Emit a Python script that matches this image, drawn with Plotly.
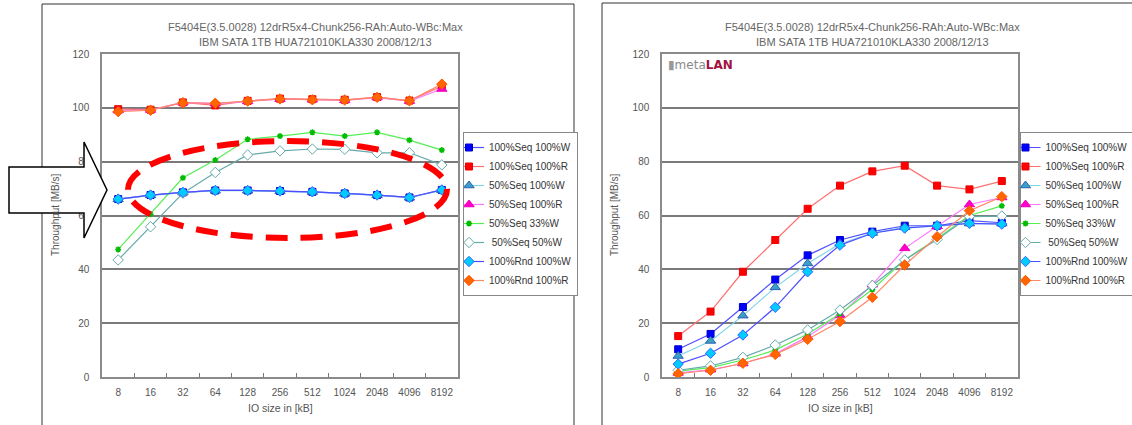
import plotly.graph_objects as go

W, H = 1132, 425

categories = ["8", "16", "32", "64", "128", "256", "512", "1024", "2048", "4096", "8192"]
series_names = ["100%Seq 100%W", "100%Seq 100%R", "50%Seq 100%W", "50%Seq 100%R",
                "50%Seq 33%W", " 50%Seq 50%W", "100%Rnd 100%W", "100%Rnd 100%R"]

# Left chart (write-back cache)
left_seq_w = [66.1, 67.6, 68.6, 69.3, 69.3, 69.1, 68.8, 68.2, 67.6, 66.7, 69.5]
left_seq_r = [99.5, 99.3, 102.0, 100.9, 102.6, 103.4, 103.2, 103.0, 104.0, 102.7, 108.0]
left_50_w = [66.0, 67.5, 68.5, 69.2, 69.2, 69.0, 68.7, 68.1, 67.5, 66.6, 69.4]
left_50_r = [99.0, 99.2, 101.9, 101.6, 102.4, 103.2, 103.0, 102.8, 103.8, 102.5, 107.0]
left_50_33w = [47.4, 60.5, 74.0, 80.6, 88.3, 89.5, 90.9, 89.5, 90.9, 88.0, 84.3]
left_50_50w = [43.5, 55.8, 68.3, 76.0, 82.5, 84.0, 84.7, 84.6, 83.3, 83.3, 78.8]
left_rnd_w = [66.1, 67.6, 68.6, 69.3, 69.3, 69.1, 68.8, 68.2, 67.6, 66.7, 69.5]
left_rnd_r = [98.6, 99.1, 101.9, 101.7, 102.5, 103.3, 103.0, 102.9, 103.9, 102.6, 108.8]

# Right chart
right_seq_w = [10.3, 16.0, 26.0, 36.2, 45.2, 50.9, 54.0, 56.2, 56.2, 58.1, 57.3]
right_seq_r = [15.2, 24.3, 39.1, 50.9, 62.5, 71.1, 76.4, 78.5, 71.1, 69.7, 72.8]
right_50_w = [7.8, 13.4, 22.8, 33.3, 42.2, 49.5, 53.5, 55.6, 56.0, 57.0, 57.0]
right_50_r = [1.5, 2.7, 5.0, 8.6, 15.0, 23.0, 34.3, 47.8, 56.0, 64.1, 66.7]
right_50_33w = [2.2, 3.5, 6.3, 10.0, 16.0, 23.5, 32.5, 43.5, 51.5, 60.0, 63.6]
right_50_50w = [2.5, 4.1, 7.3, 11.9, 17.5, 24.9, 34.0, 43.5, 51.1, 59.6, 59.8]
right_rnd_w = [4.8, 8.8, 15.6, 25.9, 39.1, 49.0, 53.4, 55.3, 56.2, 57.1, 56.8]
right_rnd_r = [1.2, 2.5, 5.1, 8.4, 14.0, 20.6, 29.6, 41.6, 52.1, 61.8, 67.0]

title_line1 = "F5404E(3.5.0028) 12drR5x4-Chunk256-RAh:Auto-WBc:Max"
title_line2 = "IBM SATA 1TB HUA721010KLA330 2008/12/13"
y_title = "Throughput [MB/s]"
x_title = "IO size in [kB]"
y_ticks = [0, 20, 40, 60, 80, 100, 120]

styles = [
    dict(line="#5050ff", symbol="square", color="#0000ff", lc="#0000cc", size=7),
    dict(line="#ff7070", symbol="square", color="#ff0000", lc="#ee0000", size=7),
    dict(line="#80d4e8", symbol="triangle-up", color="#3aa0c8", lc="#2a60b0", size=9),
    dict(line="#ff77ff", symbol="triangle-up", color="#ff00cc", lc="#ee00bb", size=9),
    dict(line="#55ee55", symbol="asterisk-open", color="#00bb00", lc="#00bb00", size=5),
    dict(line="#66aaaa", symbol="diamond", color="#ffffff", lc="#66aaaa", size=8),
    dict(line="#4d4dff", symbol="diamond", color="#00ccff", lc="#3366ff", size=8),
    dict(line="#ff8866", symbol="diamond", color="#ff6600", lc="#ff5500", size=8),
]

left_data = [left_seq_w, left_seq_r, left_50_w, left_50_r, left_50_33w, left_50_50w, left_rnd_w, left_rnd_r]
right_data = [right_seq_w, right_seq_r, right_50_w, right_50_r, right_50_33w, right_50_50w, right_rnd_w, right_rnd_r]


def px(x):
    return x / W


def py(y):
    return 1 - y / H


FONT = "Liberation Sans, Arial, sans-serif"
TXT = "#555555"

fig = go.Figure()
for i, (name, st) in enumerate(zip(series_names, styles)):
    for vals, xa, ya, lg in ((left_data[i], "x", "y", "legend"), (right_data[i], "x2", "y2", "legend2")):
        mline = dict(color=st["lc"], width=1.5 if st["symbol"].startswith("asterisk") else 1)
        fig.add_trace(go.Scatter(
            x=categories, y=vals, name=name, mode="lines+markers",
            xaxis=xa, yaxis=ya, legend=lg,
            line=dict(color=st["line"], width=1.2),
            marker=dict(symbol=st["symbol"], color=st["color"], size=st["size"], line=mline),
        ))

plot_top, plot_bot = 54, 377
ydom = [py(plot_bot), py(plot_top)]
xdom_left = [px(102), px(458)]
xdom_right = [px(662), px(1018)]

axis_common_x = dict(
    type="category", categoryorder="array", categoryarray=categories,
    showline=True, mirror=True, linecolor="#8a8a8a", linewidth=1.5,
    showgrid=False, ticks="inside", tickson="boundaries", ticklen=4, tickcolor="#777",
    tickfont=dict(family=FONT, size=10, color=TXT), ticklabelstandoff=5,
    range=[-0.5, 10.5], fixedrange=True, zeroline=False,
)
axis_common_y = dict(
    range=[0, 120], tickvals=y_ticks, showline=True, mirror=True,
    linecolor="#8a8a8a", linewidth=1.5, showgrid=True, gridcolor="#7a7a7a", gridwidth=1.5,
    zeroline=False, ticks="", tickfont=dict(family=FONT, size=10, color=TXT),
    ticklabelstandoff=9, domain=ydom, fixedrange=True,
)

legend_common = dict(
    bgcolor="white", bordercolor="#888", borderwidth=1,
    font=dict(family="Liberation Sans Narrow, Liberation Sans, Arial, sans-serif", size=10, color="#333"),
    itemwidth=30, tracegroupgap=0, yanchor="middle", xanchor="left", indentation=-15,
)

fig.update_layout(
    width=W, height=H, margin=dict(l=0, r=0, t=0, b=0, autoexpand=False),
    paper_bgcolor="white", plot_bgcolor="white",
    xaxis=dict(axis_common_x, domain=xdom_left, anchor="y"),
    yaxis=dict(axis_common_y, anchor="x"),
    xaxis2=dict(axis_common_x, domain=xdom_right, anchor="y2"),
    yaxis2=dict(axis_common_y, anchor="x2"),
    legend=dict(legend_common, x=px(463), y=py(214)),
    legend2=dict(legend_common, x=px(1019.5), y=py(214)),
    showlegend=True,
)

annotations = []
for cx, xc_title, ylab_x in ((315, 280, 55), (872, 840, 614)):
    annotations.append(dict(text=title_line1, x=px(cx), y=py(27), xref="paper", yref="paper",
                            xanchor="center", yanchor="middle",
                            showarrow=False, font=dict(family=FONT, size=11, color="#666")))
    annotations.append(dict(text=title_line2, x=px(cx), y=py(42), xref="paper", yref="paper",
                            xanchor="center", yanchor="middle",
                            showarrow=False, font=dict(family=FONT, size=11, color="#666")))
    annotations.append(dict(text=x_title, x=px(xc_title), y=py(408), xref="paper", yref="paper",
                            xanchor="center", yanchor="middle",
                            showarrow=False, font=dict(family=FONT, size=10.5, color=TXT)))
    annotations.append(dict(text=y_title, x=px(ylab_x), y=py(215), xref="paper", yref="paper",
                            xanchor="center", yanchor="middle",
                            showarrow=False, textangle=-90, font=dict(family=FONT, size=10, color=TXT)))

annotations.append(dict(
    text="<span style='color:#999'>▮</span><span style='color:#8a8a8a'>meta</span><b><span style='color:#a3123f'>LAN</span></b>",
    x=px(666), y=py(65), xref="paper", yref="paper", xanchor="left", yanchor="middle", showarrow=False,
    font=dict(family="DejaVu Sans, sans-serif", size=12),
))
fig.update_layout(annotations=annotations)

shapes = []
# outer frames
shapes.append(dict(type="path", xref="paper", yref="paper",
                   path=f"M {px(42)},{py(430)} L {px(42)},{py(4)} L {px(574)},{py(4)} L {px(574)},{py(430)}",
                   line=dict(color="#333", width=1)))
shapes.append(dict(type="path", xref="paper", yref="paper",
                   path=f"M {px(602)},{py(430)} L {px(602)},{py(3)} L {px(1140)},{py(3)}",
                   line=dict(color="#333", width=1)))
# block arrow
arrow_pts = [(9, 167), (84, 167), (84, 142), (107, 190), (84, 238), (84, 213), (9, 213)]
path = "M " + " L ".join(f"{px(a)},{py(b)}" for a, b in arrow_pts) + " Z"
shapes.append(dict(type="path", xref="paper", yref="paper", path=path,
                   fillcolor="white", line=dict(color="black", width=1.5), layer="above"))
# dashed ellipse
shapes.append(dict(type="circle", xref="paper", yref="paper",
                   x0=px(128), x1=px(447), y0=py(238), y1=py(141),
                   line=dict(color="#ff0000", width=6, dash="22px,13px"), layer="above"))
fig.update_layout(shapes=shapes)

fig.write_html("out.html", config={"displayModeBar": False},
               post_script="document.body.style.margin='0';document.body.style.overflow='hidden';")
